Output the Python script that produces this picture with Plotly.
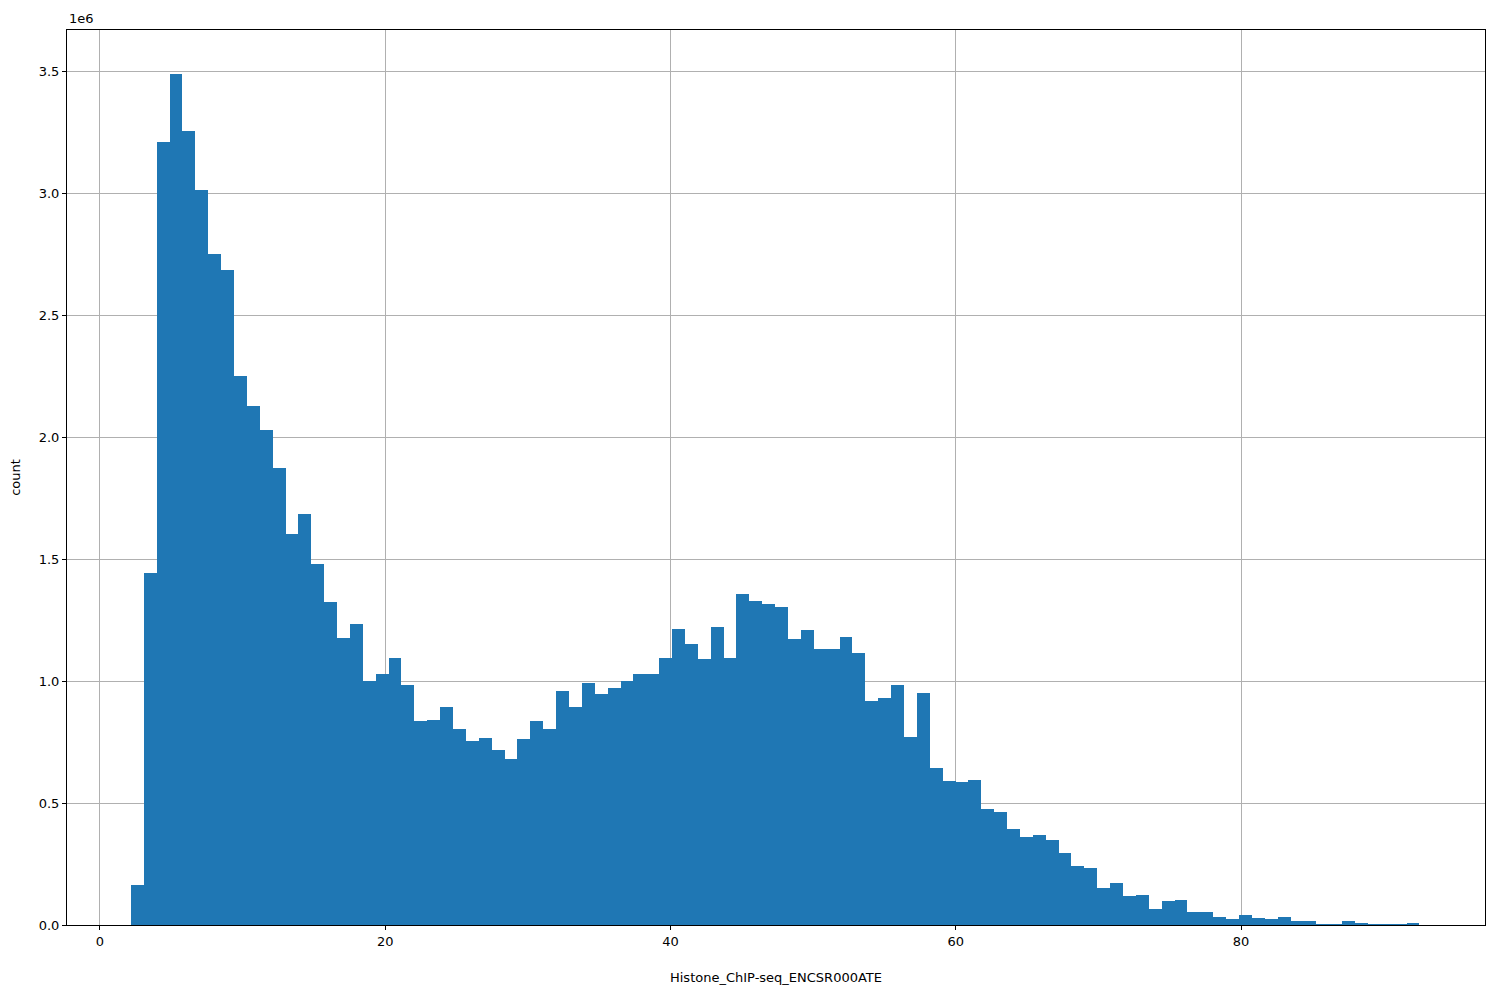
import numpy as np
import plotly.graph_objects as go

# histogram of 100 bins, counts in millions
x_min = 2.17
x_max = 92.5
n_bins = 100
counts = [
    0.165, 1.444, 3.21, 3.49, 3.255, 3.015, 2.75, 2.685, 2.25, 2.13,
    2.03, 1.875, 1.605, 1.685, 1.48, 1.325, 1.175, 1.235, 1.0, 1.03,
    1.095, 0.985, 0.837, 0.84, 0.895, 0.805, 0.755, 0.767, 0.718, 0.68,
    0.763, 0.837, 0.805, 0.96, 0.895, 0.993, 0.948, 0.973, 1.0, 1.03,
    1.03, 1.095, 1.215, 1.153, 1.09, 1.223, 1.095, 1.358, 1.33, 1.317,
    1.305, 1.173, 1.21, 1.133, 1.133, 1.182, 1.115, 0.918, 0.93, 0.985,
    0.77, 0.952, 0.645, 0.59, 0.587, 0.595, 0.476, 0.464, 0.394, 0.362,
    0.37, 0.349, 0.296, 0.242, 0.234, 0.152, 0.172, 0.119, 0.123, 0.066,
    0.098, 0.103, 0.053, 0.053, 0.033, 0.025, 0.041, 0.029, 0.025, 0.033,
    0.017, 0.017, 0.003, 0.002, 0.016, 0.006, 0.001, 0.001, 0.001, 0.009,
]
x_title = "Histone_ChIP-seq_ENCSR000ATE"

edges = np.linspace(x_min, x_max, n_bins + 1)
centers = (edges[:-1] + edges[1:]) / 2
width = edges[1] - edges[0]

fig = go.Figure(go.Bar(x=centers, y=counts, width=width,
                       marker=dict(color="#1f77b4", line=dict(width=0))))

axis_style = dict(showgrid=True, gridcolor="#b0b0b0", gridwidth=1, zeroline=False,
                  showline=True, linecolor="black", mirror=True, ticks="outside",
                  ticklen=4, tickcolor="black", tickfont=dict(size=13, color="black"),
                  automargin=False)

fig.update_layout(
    width=1500, height=1000,
    margin=dict(l=59, r=23, t=22, b=83),
    plot_bgcolor="white", paper_bgcolor="white",
    font=dict(family="DejaVu Sans", color="black"),
    showlegend=False, bargap=0,
    xaxis=dict(range=[-2.31, 97.1], dtick=20, title=dict(text=x_title, font=dict(size=13), standoff=25), **axis_style),
    yaxis=dict(range=[0, 3.67], dtick=0.5, tickformat=".1f", title=dict(text="count", font=dict(size=13)), **axis_style),
    annotations=[dict(text="1e6", xref="paper", yref="paper", x=0, y=1, xanchor="left",
                      yanchor="bottom", showarrow=False, font=dict(size=13), yshift=2)],
)

fig.write_html("out.html")
